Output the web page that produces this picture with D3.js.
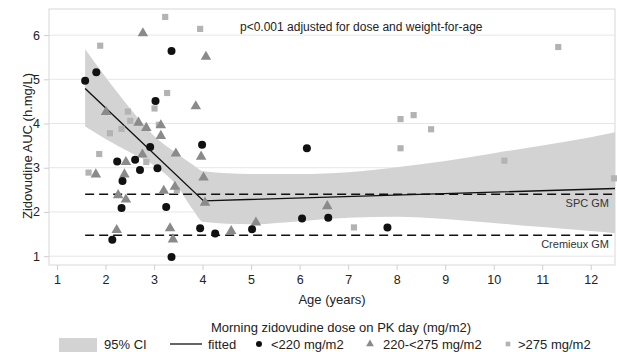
<!DOCTYPE html>
<html>
<head>
<meta charset="utf-8">
<script src="https://cdn.jsdelivr.net/npm/d3@7"></script>
<style>
  body { margin: 0; background: #fff; }
  svg { font-family: "Liberation Sans", Arial, sans-serif; }
</style>
</head>
<body>
<div id="chart"></div>
<script>
// Zidovudine AUC vs age, by morning dose group

// <220 mg/m2
const lowAge = [1.58, 1.81, 2.14, 2.24, 2.33, 2.35, 2.61, 2.71, 2.92, 3.03, 3.07, 3.25, 3.36, 3.36, 3.95, 3.99, 4.26, 5.02, 6.05, 6.15, 6.59, 7.81];
const lowAuc = [4.97, 5.16, 1.37, 3.14, 2.09, 2.70, 3.18, 2.95, 3.47, 4.51, 2.99, 2.11, 5.64, 0.98, 1.63, 3.52, 1.51, 1.61, 1.85, 3.44, 1.87, 1.65];

// 220-<275 mg/m2
const midAge = [1.80, 2.01, 2.23, 2.26, 2.39, 2.42, 2.42, 2.68, 2.76, 2.77, 2.84, 3.14, 3.14, 3.20, 3.33, 3.39, 3.43, 3.45, 3.86, 3.97, 4.02, 4.05, 4.07, 4.59, 5.10, 6.57];
const midAuc = [2.85, 4.26, 1.59, 2.38, 2.85, 3.13, 2.28, 4.02, 3.30, 6.04, 3.90, 3.96, 3.72, 2.48, 1.63, 1.38, 2.57, 3.32, 4.39, 3.25, 2.78, 2.21, 5.51, 1.57, 1.76, 2.13];

// >275 mg/m2
const highAge = [1.65, 1.87, 1.89, 2.09, 2.33, 2.46, 2.51, 2.84, 3.01, 3.10, 3.23, 3.27, 3.47, 3.95, 7.12, 8.08, 8.08, 8.35, 8.71, 10.22, 11.33, 12.48];
const highAuc = [2.89, 3.31, 5.76, 3.78, 3.88, 4.27, 4.06, 3.13, 4.34, 3.97, 6.41, 4.69, 2.49, 6.14, 1.65, 4.10, 3.44, 4.19, 3.87, 3.16, 5.73, 2.76];

// fitted spline and 95% CI
const fitAge = [1.58, 4.02, 12.5];
const fitAuc = [4.79, 2.25, 2.53];
const ciAge = [1.58, 2.0, 2.5, 3.0, 3.5, 3.8, 4.02, 5, 6, 7, 8, 9, 10, 11, 12, 12.5];
const ciHigh = [5.68, 5.05, 4.35, 3.72, 3.30, 3.07, 2.92, 2.86, 2.86, 2.90, 3.01, 3.15, 3.33, 3.50, 3.69, 3.80];
const ciLow = [3.93, 3.65, 3.35, 3.05, 2.55, 2.05, 1.77, 1.72, 1.79, 1.87, 1.89, 1.84, 1.75, 1.66, 1.57, 1.52];

// reference geometric means
const refNames = ["SPC GM", "Cremieux GM"];
const refValues = [2.40, 1.475];

const xTicks = [1, 2, 3, 4, 5, 6, 7, 8, 9, 10, 11, 12];
const yTicks = [1, 2, 3, 4, 5, 6];

const W = 617, H = 352;
const plot = { left: 49, right: 615, top: 9, bottom: 265 };

const svg = d3.select("#chart").append("svg")
  .attr("width", W)
  .attr("height", H);

const x = d3.scaleLinear().domain([0.835, 12.5]).range([plot.left, plot.right]);
const y = d3.scaleLinear().domain([0.8, 6.59]).range([plot.bottom, plot.top]);

// frame + grid
svg.append("rect")
  .attr("x", plot.left).attr("y", plot.top)
  .attr("width", plot.right - plot.left).attr("height", plot.bottom - plot.top)
  .attr("fill", "none")
  .attr("stroke", "#d8d8d8");

svg.append("g")
  .selectAll("line")
  .data(yTicks)
  .join("line")
  .attr("x1", plot.left).attr("x2", plot.right)
  .attr("y1", (d) => y(d)).attr("y2", (d) => y(d))
  .attr("stroke", "#e6e6e6");

// axes
const yAxis = svg.append("g")
  .attr("transform", `translate(${plot.left},0)`)
  .call(d3.axisLeft(y).tickValues(yTicks).tickFormat(d3.format("d")).tickSize(5).tickPadding(4));
const xAxis = svg.append("g")
  .attr("transform", `translate(0,${plot.bottom})`)
  .call(d3.axisBottom(x).tickValues(xTicks).tickFormat(d3.format("d")).tickSize(5).tickPadding(5));
[yAxis, xAxis].forEach((g) => {
  g.select(".domain").remove();
  g.selectAll("line").attr("stroke", "#cfcfcf");
  g.selectAll("text").attr("fill", "#222").style("font-size", "12.5px");
});

// CI band
const band = ciAge.map((a, i) => ({ a, lo: ciLow[i], hi: ciHigh[i] }));
svg.append("path")
  .datum(band)
  .attr("fill", "#d3d3d4")
  .attr("d", d3.area()
    .x((d) => x(d.a))
    .y0((d) => y(d.lo))
    .y1((d) => y(d.hi))
    .curve(d3.curveMonotoneX));

// reference lines
refValues.forEach((v, i) => {
  svg.append("line")
    .attr("x1", x(1.58)).attr("x2", plot.right)
    .attr("y1", y(v)).attr("y2", y(v))
    .attr("stroke", "#111")
    .attr("stroke-width", 1.5)
    .attr("stroke-dasharray", "9,5");
  svg.append("text")
    .attr("x", 609)
    .attr("y", y(v) + 13)
    .attr("text-anchor", "end")
    .style("font-size", "11px")
    .attr("fill", "#333")
    .text(refNames[i]);
});

// fitted line
svg.append("path")
  .datum(fitAge.map((a, i) => [a, fitAuc[i]]))
  .attr("fill", "none")
  .attr("stroke", "#111")
  .attr("stroke-width", 1.4)
  .attr("d", d3.line().x((d) => x(d[0])).y((d) => y(d[1])));

// markers
const sq = d3.symbol().type(d3.symbolSquare).size(38);
const tri = d3.symbol().type(d3.symbolTriangle).size(48);

svg.append("g")
  .selectAll("path")
  .data(highAge.map((a, i) => [a, highAuc[i]]))
  .join("path")
  .attr("d", sq)
  .attr("transform", (d) => `translate(${x(d[0])},${y(d[1])})`)
  .attr("fill", "#b3b3b3");

svg.append("g")
  .selectAll("path")
  .data(midAge.map((a, i) => [a, midAuc[i]]))
  .join("path")
  .attr("d", tri)
  .attr("transform", (d) => `translate(${x(d[0])},${y(d[1])})`)
  .attr("fill", "#8a8a8a");

svg.append("g")
  .selectAll("circle")
  .data(lowAge.map((a, i) => [a, lowAuc[i]]))
  .join("circle")
  .attr("cx", (d) => x(d[0]))
  .attr("cy", (d) => y(d[1]))
  .attr("r", 4)
  .attr("fill", "#111");

// annotation
svg.append("text")
  .attr("x", 240).attr("y", 31)
  .style("font-size", "12px")
  .attr("fill", "#222")
  .text("p<0.001 adjusted for dose and weight-for-age");

// axis titles
svg.append("text")
  .attr("x", (plot.left + plot.right) / 2).attr("y", 304)
  .attr("text-anchor", "middle")
  .style("font-size", "13px")
  .attr("fill", "#222")
  .text("Age (years)");

svg.append("text")
  .attr("transform", "rotate(-90)")
  .attr("x", -146).attr("y", 32)
  .attr("text-anchor", "middle")
  .style("font-size", "13px")
  .attr("fill", "#222")
  .text("Zidovudine AUC (h.mg/L)");

// legend
svg.append("text")
  .attr("x", 341).attr("y", 332)
  .attr("text-anchor", "middle")
  .style("font-size", "13px")
  .attr("fill", "#222")
  .text("Morning zidovudine dose on PK day (mg/m2)");

const ly = 344;
const leg = svg.append("g").style("font-size", "13px").attr("fill", "#222");
leg.append("rect").attr("x", 59).attr("y", ly - 6).attr("width", 38).attr("height", 14).attr("fill", "#d3d3d4");
leg.append("text").attr("x", 104).attr("y", ly + 5).text("95% CI");
leg.append("line").attr("x1", 170).attr("x2", 202).attr("y1", ly).attr("y2", ly).attr("stroke", "#111").attr("stroke-width", 1.3);
leg.append("text").attr("x", 208).attr("y", ly + 5).text("fitted");
leg.append("circle").attr("cx", 259).attr("cy", ly).attr("r", 3).attr("fill", "#111");
leg.append("text").attr("x", 271).attr("y", ly + 5).text("<220 mg/m2");
leg.append("path").attr("d", d3.symbol().type(d3.symbolTriangle).size(26)).attr("transform", `translate(370,${ly})`).attr("fill", "#8a8a8a");
leg.append("text").attr("x", 383).attr("y", ly + 5).text("220-<275 mg/m2");
leg.append("path").attr("d", d3.symbol().type(d3.symbolSquare).size(22)).attr("transform", `translate(508,${ly})`).attr("fill", "#b3b3b3");
leg.append("text").attr("x", 518).attr("y", ly + 5).text(">275 mg/m2");
</script>
</body>
</html>
